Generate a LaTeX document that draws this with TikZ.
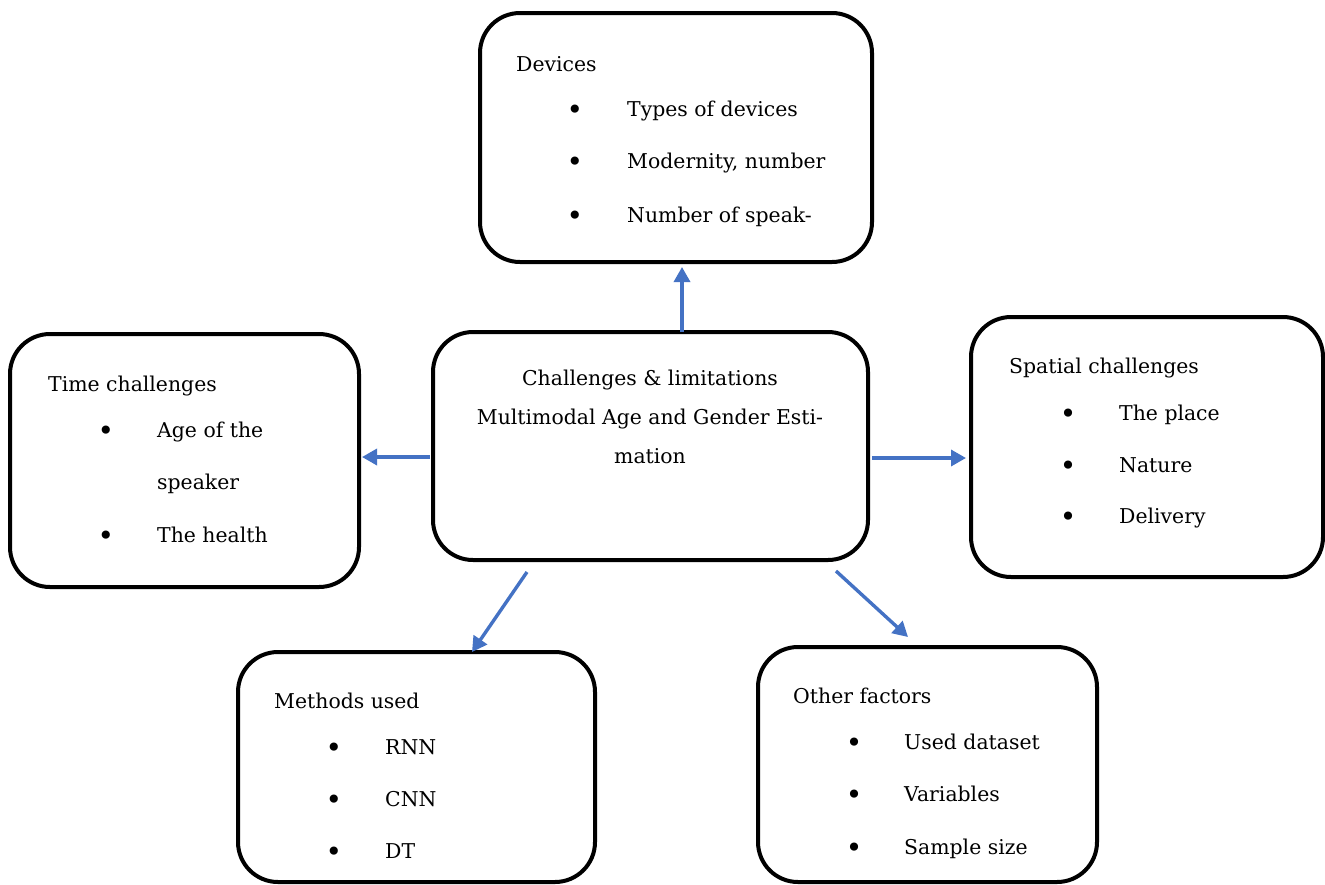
\documentclass[tikz,border=0pt]{standalone}
\usepackage{fontspec}
\setmainfont{DejaVu Serif}
\usetikzlibrary{arrows.meta}
\definecolor{arrowblue}{HTML}{4472C4}
\begin{document}
\begin{tikzpicture}[x=1pt,y=-1pt,
  box/.style={draw=black, line width=4pt, rounded corners=40pt, fill=white, inner sep=0pt, outer sep=0pt},
  txt/.style={anchor=base west, inner sep=0pt, font=\fontsize{20.4}{24}\selectfont},
  ctr/.style={anchor=base, inner sep=0pt, font=\fontsize{20.4}{24}\selectfont},
  bul/.style={anchor=base, inner sep=0pt, font=\fontsize{28}{28}\selectfont},
  arr/.style={draw=arrowblue, line width=3.4pt, -{Triangle[length=15pt,width=16pt]}}
]
\useasboundingbox (0,0) rectangle (1325,884);
% boxes
\node[box, minimum width=392pt, minimum height=249pt] (dev) at (676,137.5) {};
\node[box, minimum width=435pt, minimum height=228pt] (cen) at (650.5,446) {};
\node[box, minimum width=349pt, minimum height=253pt] (tim) at (184.5,460.5) {};
\node[box, minimum width=352pt, minimum height=260pt] (spa) at (1147,447) {};
\node[box, minimum width=357pt, minimum height=230pt] (met) at (416.5,767) {};
\node[box, minimum width=339pt, minimum height=235pt] (oth) at (927.5,764.5) {};
% devices
\node[txt] (devt) at (516,71) {Devices};
\node[bul] (devb1) at (575,119) {•};
\node[txt] (dev1) at (627,116) {Types of devices};
\node[bul] (devb2) at (575,171) {•};
\node[txt] (dev2) at (627,168) {Modernity, number};
\node[bul] (devb3) at (575,225) {•};
\node[txt] (dev3) at (627,222) {Number of speak-};
% center
\node[ctr] (cen1) at (650,385) {Challenges \& limitations};
\node[ctr] (cen2) at (650,424) {Multimodal Age and Gender Esti-};
\node[ctr] (cen3) at (650,463) {mation};
% time
\node[txt] (timt) at (48,391) {Time challenges};
\node[bul] (timb1) at (106,440) {•};
\node[txt] (tim1) at (157,437) {Age of the};
\node[txt] (tim2) at (157,489) {speaker};
\node[bul] (timb3) at (106,545) {•};
\node[txt] (tim3) at (157,542) {The health};
% spatial
\node[txt] (spat) at (1009,373) {Spatial challenges};
\node[bul] (spab1) at (1068,423) {•};
\node[txt] (spa1) at (1119,420) {The place};
\node[bul] (spab2) at (1068,475) {•};
\node[txt] (spa2) at (1119,472) {Nature};
\node[bul] (spab3) at (1068,526) {•};
\node[txt] (spa3) at (1119,523) {Delivery};
% methods
\node[txt] (mett) at (274,708) {Methods used};
\node[bul] (metb1) at (334,757) {•};
\node[txt] (met1) at (385,754) {RNN};
\node[bul] (metb2) at (334,809) {•};
\node[txt] (met2) at (385,806) {CNN};
\node[bul] (metb3) at (334,861) {•};
\node[txt] (met3) at (385,858) {DT};
% other
\node[txt] (otht) at (793,703) {Other factors};
\node[bul] (othb1) at (854,752) {•};
\node[txt] (oth1) at (904,749) {Used dataset};
\node[bul] (othb2) at (854,804) {•};
\node[txt] (oth2) at (904,801) {Variables};
\node[bul] (othb3) at (854,857) {•};
\node[txt] (oth3) at (904,854) {Sample size};
% arrows
\draw[arr, shorten >=5pt] (cen.north -| 682,0) -- (dev.south -| 682,0);
\draw[arr, shorten <=3pt, shorten >=3pt] (cen.west |- 0,457) -- (tim.east |- 0,457);
\draw[arr, shorten <=4pt, shorten >=5pt] (cen.east |- 0,458) -- (spa.west |- 0,458);
\coordinate (dls) at (527,572);
\coordinate (dle) at (472,652);
\coordinate (drs) at (836,571);
\coordinate (dre) at (908,637);
\draw[arr] (dls) -- (dle);
\draw[arr] (drs) -- (dre);
\end{tikzpicture}
\end{document}
